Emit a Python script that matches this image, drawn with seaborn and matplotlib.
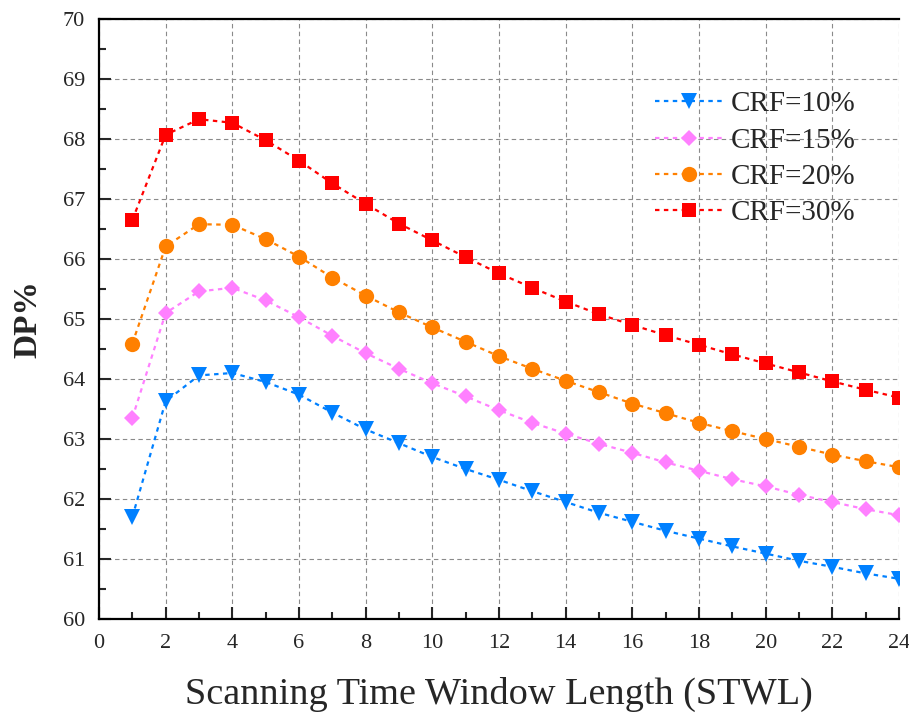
import matplotlib
matplotlib.use("Agg")
import matplotlib.pyplot as plt
import seaborn as sns
import numpy as np
import pandas as pd
from matplotlib.ticker import MultipleLocator

stwl = list(range(1, 25))

crf10 = [61.70, 63.63, 64.06, 64.10, 63.95, 63.74, 63.44, 63.16, 62.93, 62.70, 62.50, 62.32,
         62.13, 61.95, 61.77, 61.62, 61.47, 61.34, 61.21, 61.09, 60.97, 60.87, 60.76, 60.67]
crf15 = [63.35, 65.10, 65.46, 65.52, 65.31, 65.03, 64.72, 64.43, 64.17, 63.93, 63.71, 63.48,
         63.27, 63.09, 62.92, 62.77, 62.61, 62.47, 62.33, 62.21, 62.07, 61.95, 61.83, 61.73]
crf20 = [64.59, 66.21, 66.58, 66.57, 66.33, 66.04, 65.69, 65.39, 65.11, 64.86, 64.62, 64.38,
         64.17, 63.97, 63.78, 63.59, 63.43, 63.27, 63.13, 63.00, 62.87, 62.74, 62.63, 62.53]
crf30 = [66.65, 68.07, 68.33, 68.27, 67.98, 67.64, 67.26, 66.92, 66.59, 66.31, 66.03, 65.76,
         65.52, 65.29, 65.08, 64.90, 64.73, 64.57, 64.41, 64.26, 64.11, 63.96, 63.82, 63.69]

labels = ["CRF=10%", "CRF=15%", "CRF=20%", "CRF=30%"]
series = [crf10, crf15, crf20, crf30]
colors = ["#0080FF", "#FF80FF", "#FF8000", "#FF0000"]
markers = ["v", "D", "o", "s"]
msizes = [11, 8.6, 11, 10.2]

sns.set_style("ticks")
plt.rcParams["font.family"] = ["Liberation Serif", "DejaVu Serif"]

fig = plt.figure(figsize=(9.09, 7.16), dpi=100)
ax = fig.add_axes([99/909, 1 - 619/716, 800/909, 600/716])

for vals, lab, c, m, ms in zip(series, labels, colors, markers, msizes):
    df = pd.DataFrame({"STWL": stwl, "DP": vals})
    sns.lineplot(data=df, x="STWL", y="DP", ax=ax, color=c, marker=m, markersize=ms,
                 markeredgewidth=0, markeredgecolor=c, linewidth=1.6,
                 linestyle=(0, (2, 2)), label=lab)

ax.set_xlim(0, 24)
ax.set_ylim(60, 70)
ax.xaxis.set_major_locator(MultipleLocator(2))
ax.xaxis.set_minor_locator(MultipleLocator(1))
ax.yaxis.set_major_locator(MultipleLocator(1))
ax.yaxis.set_minor_locator(MultipleLocator(0.5))

ax.grid(True, which="major", linestyle=(0, (4, 3)), linewidth=0.8, color="#8a8a8a")
ax.set_axisbelow(True)

ax.tick_params(which="major", direction="in", length=8.5, width=1.5, labelsize=16, pad=11)
ax.tick_params(which="minor", direction="in", length=5, width=1.5)
ax.tick_params(axis="y", which="major", pad=10)
ax.tick_params(top=False, right=False, which="both")

for s in ["left", "bottom", "top"]:
    ax.spines[s].set_linewidth(1.6)
    ax.spines[s].set_color("black")
ax.spines["right"].set_visible(False)

ax.set_xlabel("Scanning Time Window Length (STWL)", fontsize=27.5, labelpad=17)
ax.set_ylabel("DP%", fontsize=24, fontweight="bold", labelpad=14)

handles, labs = ax.get_legend_handles_labels()
ax.legend(handles, labs, loc="upper left", bbox_to_anchor=(0.695, 0.88), frameon=False,
          fontsize=21, handlelength=2.3, handletextpad=0.3, labelspacing=0.34,
          borderpad=0, borderaxespad=0, numpoints=1)

fig.savefig("out.png", dpi=100, facecolor="white")
